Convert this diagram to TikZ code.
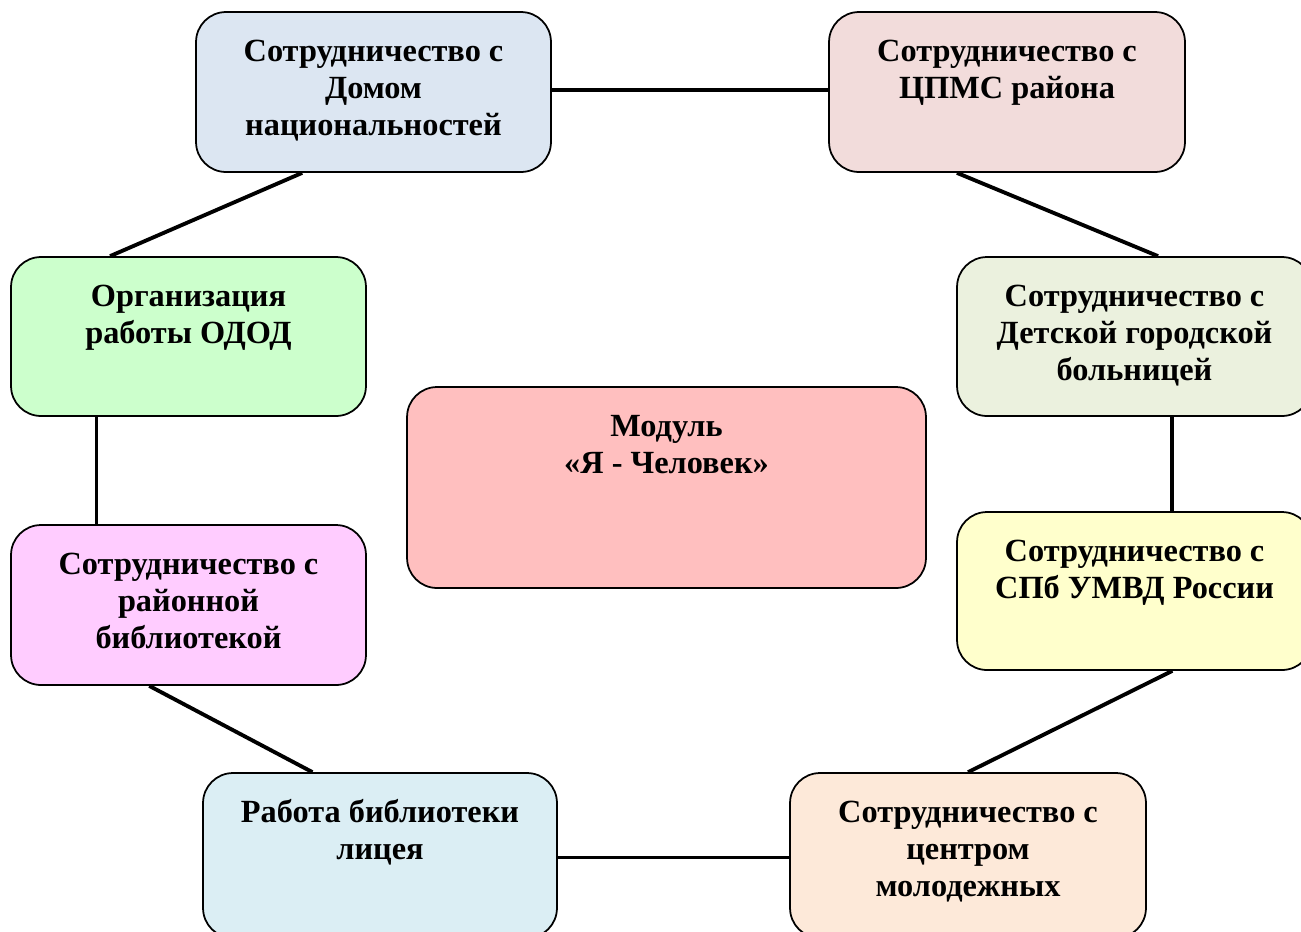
\documentclass[tikz,border=0pt]{standalone}
\usepackage{fontspec}
\setmainfont{Liberation Serif}
\usetikzlibrary{calc}

\definecolor{domblue}{HTML}{DCE6F2}
\definecolor{cpmsrose}{HTML}{F2DCDB}
\definecolor{ododgreen}{HTML}{CCFFCC}
\definecolor{bolnsage}{HTML}{EBF1DE}
\definecolor{modulpink}{HTML}{FFBFBF}
\definecolor{biblviolet}{HTML}{FFCCFF}
\definecolor{umvdyellow}{HTML}{FFFFCC}
\definecolor{liceicyan}{HTML}{DBEEF4}
\definecolor{molodpeach}{HTML}{FDE9D9}

% text of a card, set from its top edge
\newcommand{\cardtext}[3]{\parbox[c][#2][t]{#1}{\centering\vspace*{0.47cm}\strut #3}}

\tikzset{
  card/.style={draw=black, line width=1pt, rounded corners=0.6cm, inner sep=0pt,
    font=\fontsize{18.4}{21.1}\selectfont\bfseries},
  link/.style={draw=black, line width=2.2pt},
}

\begin{document}
\begin{tikzpicture}[x=0.02cm, y=-0.02cm]
  \useasboundingbox (0,0) rectangle (1301,931);

  % top row
  \node[card, fill=domblue] (dom) at (373.5,92)
    {\cardtext{7.1cm}{3.2cm}{Сотрудничество с\\ Домом\\ национальностей}};
  \node[card, fill=cpmsrose] (cpms) at (1007,92)
    {\cardtext{7.12cm}{3.2cm}{Сотрудничество с\\ ЦПМС района}};

  % left column
  \node[card, fill=ododgreen] (odod) at (188.5,336.5)
    {\cardtext{7.1cm}{3.18cm}{Организация\\ работы ОДОД}};
  \node[card, fill=biblviolet] (bibl) at (188.5,605)
    {\cardtext{7.1cm}{3.2cm}{Сотрудничество с\\ районной\\ библиотекой}};

  % right column
  \node[card, fill=bolnsage] (boln) at (1134.5,336.5)
    {\cardtext{7.1cm}{3.18cm}{Сотрудничество с\\ Детской городской\\ больницей}};
  \node[card, fill=umvdyellow] (umvd) at (1134.5,591)
    {\cardtext{7.1cm}{3.16cm}{Сотрудничество с\\ СПб УМВД России}};

  % centre
  \node[card, fill=modulpink] (modul) at (666.5,487.5)
    {\cardtext{10.38cm}{4.02cm}{Модуль\\ «Я - Человек»}};

  % bottom row
  \node[card, fill=liceicyan] (licei) at (380,855.5)
    {\cardtext{7.08cm}{3.3cm}{Работа библиотеки\\ лицея}};
  \node[card, fill=molodpeach] (molod) at (968,855.5)
    {\cardtext{7.12cm}{3.3cm}{Сотрудничество с\\ центром\\ молодежных}};

  % links round the ring
  \draw[link] ($(dom.east)+(0,-2)$) -- ($(cpms.west)+(0,-2)$);
  \draw[link] ($(dom.south west)!0.3!(dom.south east)$) -- ($(odod.north west)!0.28!(odod.north east)$);
  \draw[link] ($(cpms.south west)!0.36!(cpms.south east)$) -- ($(boln.north west)!0.566!(boln.north east)$);
  \draw[link] ($(odod.south west)!0.242!(odod.south east)$) -- ($(bibl.north west)!0.242!(bibl.north east)$);
  \draw[link] ($(boln.south west)!0.606!(boln.south east)$) -- ($(umvd.north west)!0.606!(umvd.north east)$);
  \draw[link] ($(bibl.south west)!0.39!(bibl.south east)$) -- ($(licei.north west)!0.31!(licei.north east)$);
  \draw[link] ($(umvd.south west)!0.606!(umvd.south east)$) -- (molod.north);
  \draw[link] ($(licei.east)+(0,2)$) -- ($(molod.west)+(0,2)$);
\end{tikzpicture}
\end{document}
